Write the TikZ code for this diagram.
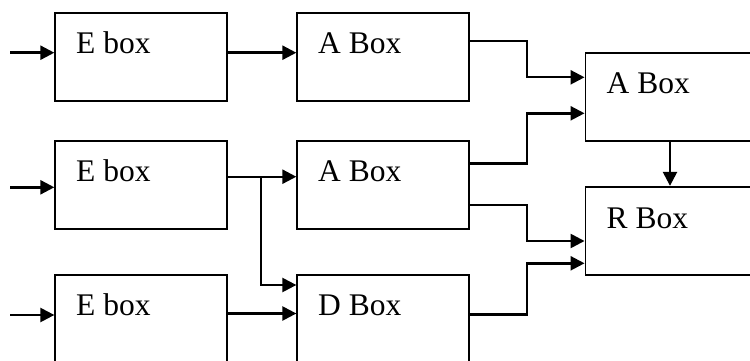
\documentclass[tikz,border=0pt]{standalone}
\usepackage{fontspec}
\setmainfont{Liberation Serif}
\usetikzlibrary{arrows.meta}
\tikzset{
  blk/.style={draw=black, line width=1.9pt, rectangle, minimum width=172pt, minimum height=88pt, inner sep=0pt},
  lbl/.style={anchor=base west, inner sep=0pt, font=\fontsize{31.5pt}{36pt}\selectfont},
  arr/.style={draw=black, line width=2.4pt, -{Triangle[length=14pt,width=14pt]}},
  ln/.style={draw=black, line width=2.4pt}
}
\begin{document}
\begin{tikzpicture}[x=1pt, y=-1pt]
\path[use as bounding box, clip] (0,0) rectangle (750,361);
\fill[white] (0,0) rectangle (750,361);
% boxes
\node[blk] (e1) at (141.3,57) {};
\node[blk] (a1) at (383.3,57) {};
\node[blk] (ar) at (671.5,96.8) {};
\node[blk] (e2) at (141.3,185) {};
\node[blk] (a2) at (383.3,185) {};
\node[blk] (r)  at (671.5,230.8) {};
\node[blk] (e3) at (141.3,319) {};
\node[blk] (d)  at (383.3,319) {};
% labels
\node[lbl] (te1) at (76,54) {E box};
\node[lbl] (ta1) at (318,54) {A Box};
\node[lbl] (tar) at (606.5,94) {A Box};
\node[lbl] (te2) at (76,181.5) {E box};
\node[lbl] (ta2) at (318,181.5) {A Box};
\node[lbl] (tr)  at (606.5,228) {R Box};
\node[lbl] (te3) at (76,315.5) {E box};
\node[lbl] (td)  at (318,315.5) {D Box};
% free ends / bend points
\coordinate (in1) at (10,52.7);
\coordinate (in2) at (10,187.3);
\coordinate (in3) at (10,315);
\coordinate (c12) at (260,52.7);
\coordinate (c2) at (260.7,176.7);
\coordinate (c2d) at (260.7,285);
\coordinate (c3) at (260,313.5);
\coordinate (j1) at (526.7,41);
\coordinate (j1e) at (526.7,77.3);
\coordinate (j2) at (526.7,163.3);
\coordinate (j2e) at (526.7,113.3);
\coordinate (j3) at (526.7,205);
\coordinate (j3e) at (526.7,241);
\coordinate (j4) at (526.7,314.3);
\coordinate (j4e) at (526.7,263.3);
\coordinate (v) at (670,0);
% connectors
\draw[arr] (in1) -- (in1 -| e1.west);
\draw[arr] (in2) -- (in2 -| e2.west);
\draw[arr] (in3) -- (in3 -| e3.west);
\draw[arr] (c12 -| e1.east) -- (c12 -| a1.west);
\draw[arr] (c2 -| e2.east) -- (c2 -| a2.west);
\draw[arr] (c2) -- (c2d) -- (c2d -| d.west);
\draw[arr] (c3 -| e3.east) -- (c3 -| d.west);
\draw[arr] (j1 -| a1.east) -- (j1) -- (j1e) -- (j1e -| ar.west);
\draw[arr] (j2 -| a2.east) -- (j2) -- (j2e) -- (j2e -| ar.west);
\draw[arr] (j3 -| a2.east) -- (j3) -- (j3e) -- (j3e -| r.west);
\draw[arr] (j4 -| d.east) -- (j4) -- (j4e) -- (j4e -| r.west);
\draw[arr] (v |- ar.south) -- (v |- r.north);
\end{tikzpicture}
\end{document}
